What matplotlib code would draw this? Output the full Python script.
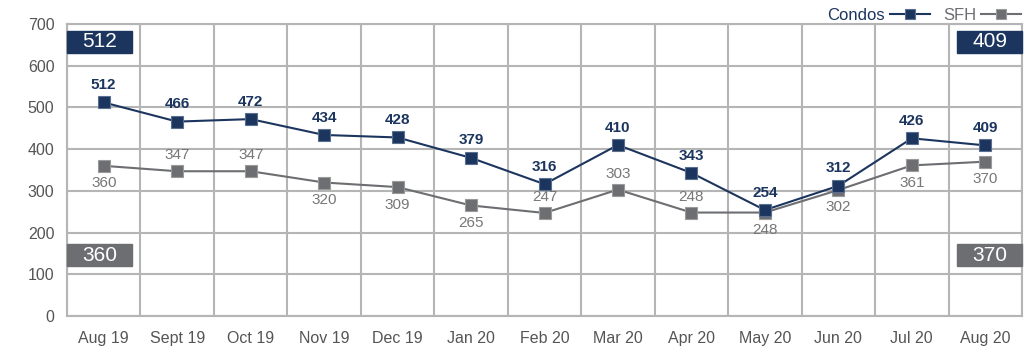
import matplotlib.pyplot as plt
from matplotlib.patches import Rectangle

plt.rcParams['font.family'] = ['Liberation Sans', 'DejaVu Sans']

months = ['Aug 19', 'Sept 19', 'Oct 19', 'Nov 19', 'Dec 19', 'Jan 20', 'Feb 20',
          'Mar 20', 'Apr 20', 'May 20', 'Jun 20', 'Jul 20', 'Aug 20']
condos = [512, 466, 472, 434, 428, 379, 316, 410, 343, 254, 312, 426, 409]
sfh = [360, 347, 347, 320, 309, 265, 247, 303, 248, 248, 302, 361, 370]
# label placement for SFH values: 1 above, -1 below
sfh_side = [-1, 1, 1, -1, -1, -1, 1, 1, 1, -1, -1, -1, -1]

navy = '#1c355e'
grey = '#6d6e71'
gridc = '#b5b5b5'

fig = plt.figure(figsize=(10.24, 3.51), dpi=100)
ax = fig.add_axes([67/1024, 1-316/351, 955/1024, 292/351])
x = list(range(len(months)))

ax.plot(x, condos, '-', color=navy, lw=1.5, marker='s', ms=8.5,
        mec='#5a6f90', mew=0.8, label='Condos', zorder=4)
ax.plot(x, sfh, '-', color=grey, lw=1.5, marker='s', ms=8.5,
        mec='#9a9a9a', mew=0.8, label='SFH', zorder=3)

for i, v in enumerate(condos):
    ax.annotate(str(v), (i, v), xytext=(0, 7.5), textcoords='offset points',
                ha='center', va='bottom', color=navy, fontsize=11,
                fontweight='bold', zorder=5)
for i, v in enumerate(sfh):
    off = 6.5 if sfh_side[i] > 0 else -7.5
    ax.annotate(str(v), (i, v), xytext=(0, off), textcoords='offset points',
                ha='center', va='bottom' if off > 0 else 'top', color='#777777',
                fontsize=11, zorder=5)

ax.set_xlim(-0.5, 12.5)
ax.set_ylim(0, 700)
ax.set_yticks(range(0, 701, 100))
ax.set_xticks(x)
ax.set_xticklabels(months)
ax.set_xticks([i + 0.5 for i in range(-1, 13)], minor=True)
ax.grid(True, axis='y', which='major', color=gridc, lw=1.5)
ax.grid(True, axis='x', which='minor', color=gridc, lw=1.5)
ax.grid(False, axis='x', which='major')
ax.tick_params(axis='both', which='both', length=0, labelsize=11.5, colors='#555555')
ax.tick_params(axis='x', pad=11)
ax.tick_params(axis='y', pad=9)
for s in ax.spines.values():
    s.set_color(gridc)
    s.set_linewidth(1.5)
ax.set_axisbelow(True)

# start / end value boxes
boxes = [(-0.5, 631, condos[0], navy), (-0.5, 120, sfh[0], grey),
         (11.62, 631, condos[-1], navy), (11.62, 120, sfh[-1], grey)]
for bx, by, val, col in boxes:
    ax.add_patch(Rectangle((bx, by), 0.88, 52, color=col, zorder=6, clip_on=False))
    ax.text(bx + 0.44, by + 26, str(val), ha='center', va='center',
            color='white', fontsize=15, zorder=7)

leg = ax.legend(loc='lower right', bbox_to_anchor=(1.0, 1.0), ncol=2,
                frameon=False, markerfirst=False, fontsize=12,
                handlelength=2.4, handletextpad=0.3, columnspacing=0.8,
                borderaxespad=0, borderpad=0.05)
for t, c in zip(leg.get_texts(), [navy, grey]):
    t.set_color(c)
for h in leg.legend_handles:
    h.set_markersize(7)

fig.savefig('out.png', dpi=100)
